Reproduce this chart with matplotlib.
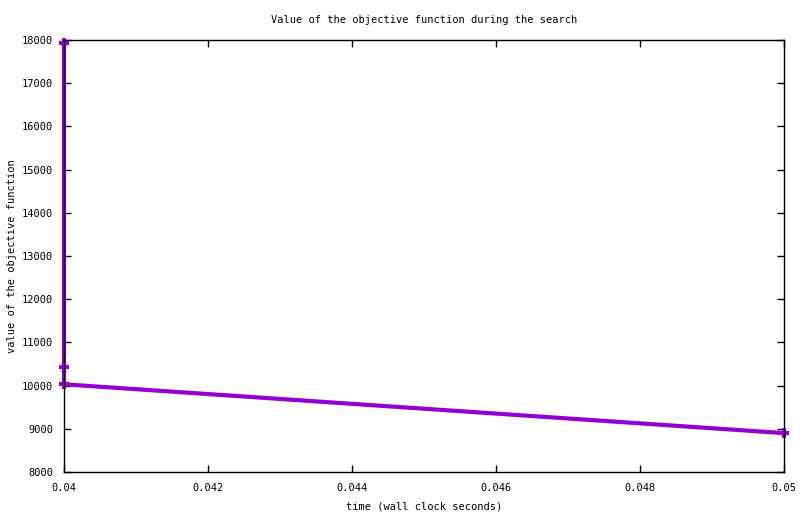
import matplotlib
matplotlib.use("Agg")
import matplotlib.pyplot as plt

time_s = [0.04, 0.04, 0.04, 0.05]
objective = [17930, 10430, 10030, 8900]
xticks = [0.04, 0.042, 0.044, 0.046, 0.048, 0.05]
xtick_labels = ["0.04", "0.042", "0.044", "0.046", "0.048", "0.05"]
yticks = list(range(8000, 18001, 1000))

plt.rcParams['font.family'] = ['DejaVu Sans Mono']
plt.rcParams['font.size'] = 7.5

fig = plt.figure(figsize=(8, 5.14), dpi=100)
ax = fig.add_axes([0.08, 0.0817, 0.90, 0.8405])
ax.plot(time_s, objective, color='#9400D3', lw=3, marker='+', ms=7, mew=3,
        solid_joinstyle='miter', clip_on=False)
ax.set_xlim(0.04, 0.05)
ax.set_ylim(8000, 18000)
ax.set_xticks(xticks)
ax.set_xticklabels(xtick_labels)
ax.set_yticks(yticks)
ax.tick_params(direction='in', top=True, right=True, length=5, width=1, pad=8, colors='black')
for s in ax.spines.values():
    s.set_linewidth(1)
ax.set_title("Value of the objective function during the search", pad=12, fontsize=7.5)
ax.set_xlabel("time (wall clock seconds)", labelpad=6)
ax.set_ylabel("value of the objective function", labelpad=3)
fig.savefig("out.png", dpi=100)
